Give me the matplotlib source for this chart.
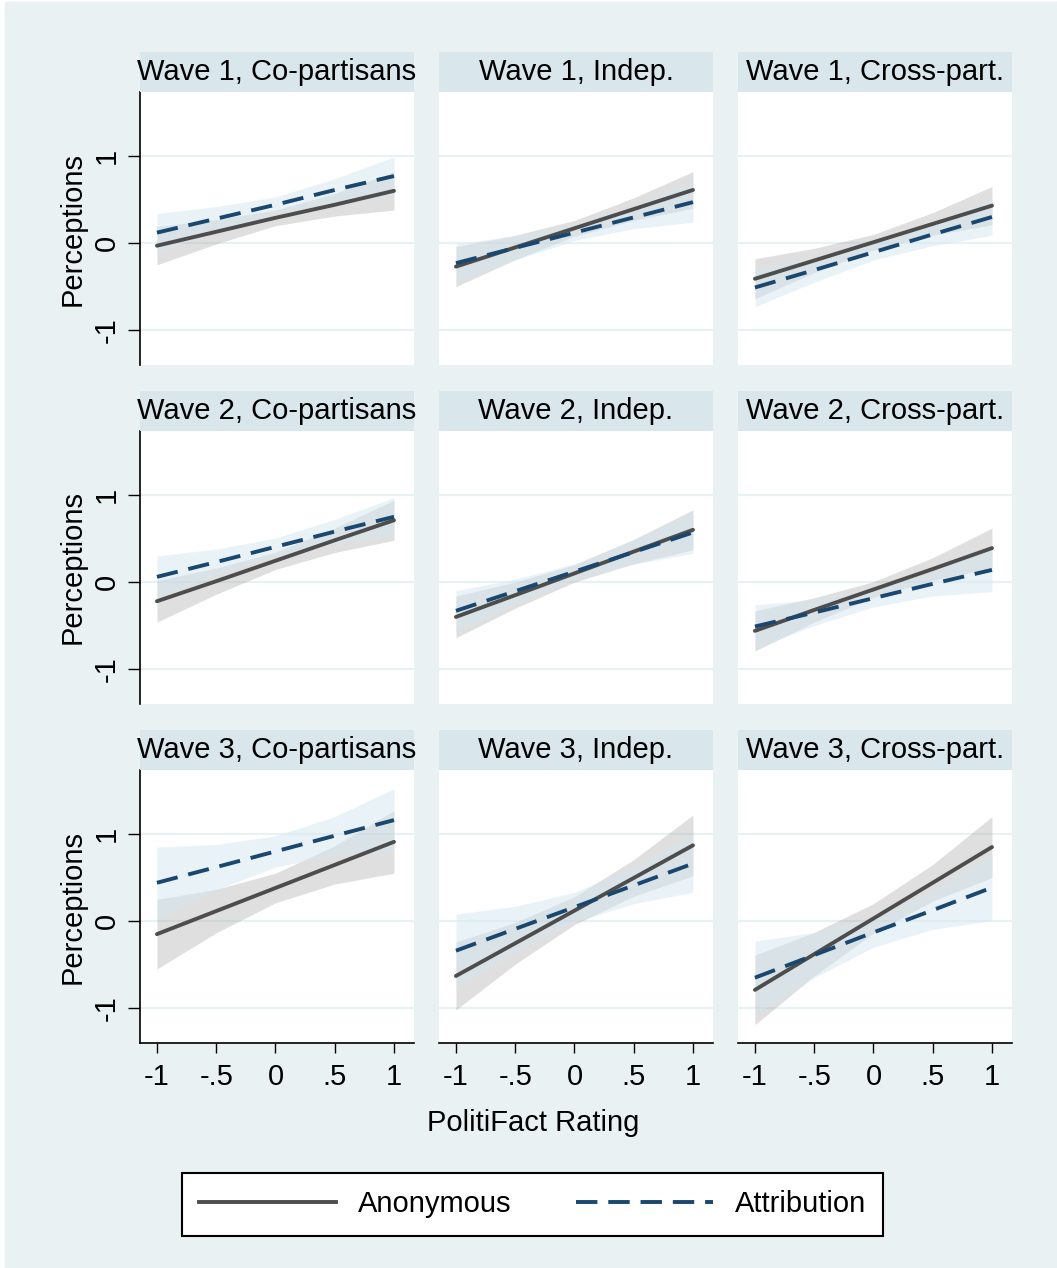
import numpy as np
import matplotlib.pyplot as plt
from matplotlib.patches import Rectangle
from matplotlib.lines import Line2D

plt.rcParams['font.family'] = ['Liberation Sans', 'DejaVu Sans']

# data: margins at PolitiFact rating -1, -.5, 0, .5, 1
rating = [-1, -0.5, 0, 0.5, 1]
titles = ['Wave 1, Co-partisans', 'Wave 1, Indep.', 'Wave 1, Cross-part.',
          'Wave 2, Co-partisans', 'Wave 2, Indep.', 'Wave 2, Cross-part.',
          'Wave 3, Co-partisans', 'Wave 3, Indep.', 'Wave 3, Cross-part.']

anon_est = [[-0.03, 0.13, 0.29, 0.44, 0.60],
            [-0.27, -0.05, 0.17, 0.39, 0.61],
            [-0.41, -0.20, 0.01, 0.22, 0.43],
            [-0.22, 0.01, 0.245, 0.48, 0.71],
            [-0.40, -0.15, 0.10, 0.35, 0.60],
            [-0.56, -0.32, -0.085, 0.15, 0.39],
            [-0.15, 0.115, 0.38, 0.645, 0.91],
            [-0.63, -0.255, 0.12, 0.495, 0.87],
            [-0.79, -0.38, 0.03, 0.44, 0.85]]
anon_ci = [[0.22, 0.14, 0.09, 0.13, 0.22],
           [0.23, 0.14, 0.09, 0.13, 0.21],
           [0.23, 0.14, 0.09, 0.13, 0.22],
           [0.24, 0.15, 0.10, 0.14, 0.23],
           [0.24, 0.15, 0.10, 0.14, 0.23],
           [0.23, 0.14, 0.09, 0.13, 0.23],
           [0.40, 0.25, 0.17, 0.22, 0.36],
           [0.39, 0.24, 0.16, 0.21, 0.35],
           [0.40, 0.25, 0.17, 0.21, 0.35]]

attr_est = [[0.12, 0.28, 0.44, 0.61, 0.77],
            [-0.23, -0.055, 0.12, 0.295, 0.47],
            [-0.51, -0.31, -0.105, 0.10, 0.30],
            [0.06, 0.23, 0.405, 0.58, 0.75],
            [-0.33, -0.105, 0.12, 0.345, 0.57],
            [-0.51, -0.35, -0.185, -0.02, 0.14],
            [0.44, 0.62, 0.80, 0.98, 1.16],
            [-0.34, -0.09, 0.16, 0.41, 0.66],
            [-0.65, -0.39, -0.13, 0.125, 0.385]]
attr_ci = [[0.22, 0.14, 0.09, 0.13, 0.22],
           [0.22, 0.14, 0.09, 0.13, 0.23],
           [0.22, 0.14, 0.09, 0.13, 0.21],
           [0.24, 0.15, 0.10, 0.14, 0.22],
           [0.23, 0.14, 0.09, 0.14, 0.24],
           [0.25, 0.15, 0.10, 0.14, 0.25],
           [0.41, 0.26, 0.18, 0.22, 0.36],
           [0.42, 0.26, 0.17, 0.21, 0.33],
           [0.42, 0.26, 0.17, 0.22, 0.38]]

xticks = [-1, -0.5, 0, 0.5, 1]
xticklabels = ['-1', '-.5', '0', '.5', '1']
yticks = [-1, 0, 1]
yticklabels = ['-1', '0', '1']

bg = '#EAF1F3'
strip_col = '#D9E6EB'
anon_col = '#4D4D4D'
attr_col = '#1A476F'
fs = 21
lw = 2.8
dash = (0, (5.5, 2.8))

W, H = 1057, 1268
fig = plt.figure(figsize=(W / 100, H / 100), dpi=100, facecolor='white')
fig.patches.append(Rectangle((5 / W, 0), 1, 1 - 2 / H, transform=fig.transFigure,
                             color=bg, zorder=-10))

def px(x, y, w, h):
    return [x / W, 1 - (y + h) / H, w / W, h / H]

col_x = [140, 439, 738]
plot_y = [92, 431, 770]
strip_y = [52, 391, 730]
pw, ph = 274, 273

for i in range(9):
    r, c = divmod(i, 3)
    ax = fig.add_axes(px(col_x[c], plot_y[r], pw, ph))
    ax.set_facecolor('white')
    x = np.array(rating)
    a = np.array(anon_est[i]); ae = np.array(anon_ci[i])
    b = np.array(attr_est[i]); be = np.array(attr_ci[i])
    ax.fill_between(x, a - ae, a + ae, color='#8C8C8C', alpha=0.27, lw=0, zorder=2)
    ax.fill_between(x, b - be, b + be, color='#D5E8F0', alpha=0.5, lw=0, zorder=2)
    ax.plot(x, a, color=anon_col, lw=lw, zorder=3, solid_capstyle='round')
    ax.plot(x, b, color=attr_col, lw=lw, ls=dash, zorder=4)
    ax.set_xlim(-1.143, 1.169)
    ax.set_ylim(-1.40, 1.735)
    ax.set_yticks(yticks)
    ax.set_xticks(xticks)
    ax.yaxis.grid(True, color=bg, lw=1.6)
    ax.set_axisbelow(True)
    for s in ax.spines.values():
        s.set_visible(False)
    if c == 0:
        ax.spines['left'].set_visible(True)
        ax.spines['left'].set_linewidth(1.2)
        ax.set_yticklabels(yticklabels, rotation=90, va='center', fontsize=fs)
        ax.tick_params(axis='y', length=8.6, width=1, pad=5)
        fig.text(73 / W, 1 - (plot_y[r] + ph / 2) / H, 'Perceptions', rotation=90,
                 ha='center', va='center', fontsize=fs)
    else:
        ax.tick_params(axis='y', left=False, labelleft=False)
    if r == 2:
        ax.spines['bottom'].set_visible(True)
        ax.spines['bottom'].set_linewidth(1.2)
        ax.set_xticklabels(xticklabels, fontsize=fs)
        ax.tick_params(axis='x', length=7.2, width=1, pad=7)
    else:
        ax.tick_params(axis='x', bottom=False, labelbottom=False)

    st = fig.add_axes(px(col_x[c], strip_y[r], pw, 40))
    st.set_facecolor(strip_col)
    st.set_xticks([]); st.set_yticks([])
    for s in st.spines.values():
        s.set_visible(False)
    st.text(0.5, 0.5, titles[i], ha='center', va='center', fontsize=fs,
            transform=st.transAxes)

fig.text(533 / W, 1 - 1123 / H, 'PolitiFact Rating', ha='center', va='center', fontsize=fs)

handles = [Line2D([], [], color=anon_col, lw=lw),
           Line2D([], [], color=attr_col, lw=lw, ls=dash)]
leg = fig.legend(handles, ['Anonymous', 'Attribution'], loc='center',
                 bbox_to_anchor=(532.5 / W, 1 - 1204 / H), ncol=2, frameon=True,
                 fancybox=False, edgecolor='black', framealpha=1, fontsize=fs,
                 handlelength=4.7, handletextpad=0.75, columnspacing=2.2, borderpad=0.6)
leg.get_frame().set_linewidth(1.5)

fig.savefig('out.png', dpi=100, facecolor=fig.get_facecolor())
